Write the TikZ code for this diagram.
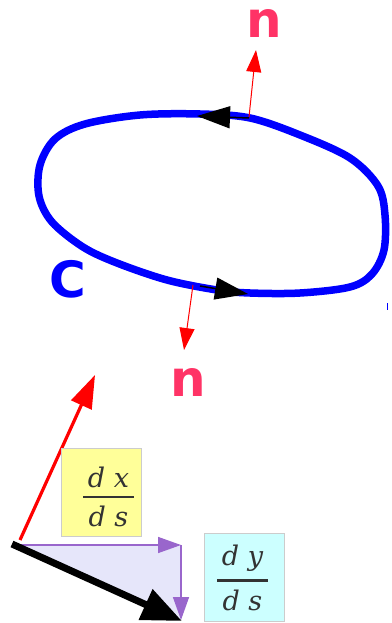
\documentclass[tikz,border=0pt]{standalone}
\usepackage{fontspec}
\usetikzlibrary{arrows.meta}
\newfontfamily\labelfont{DejaVu Sans Bold}
\newfontfamily\fracfont{DejaVu Serif}
\definecolor{curveblue}{HTML}{0000FF}
\definecolor{normred}{HTML}{FF0000}
\definecolor{labelpink}{HTML}{FF3366}
\definecolor{vecpurple}{HTML}{9966CC}
\definecolor{trifill}{HTML}{E6E6FA}
\definecolor{dxyellow}{HTML}{FFFF99}
\definecolor{dycyan}{HTML}{CCFFFF}
\definecolor{boxedge}{HTML}{CCCCCC}
\definecolor{fracgray}{HTML}{333333}
\newcommand{\vecfrac}[2]{\vbox{\offinterlineskip\halign{\hfil##\hfil\cr #1\cr\noalign{\kern8pt}\rule{51pt}{2.7pt}\cr\noalign{\kern8pt}#2\cr}}}

\begin{document}
\begin{tikzpicture}[x=1pt,y=-1pt,
    nlabel/.style={font=\labelfont\fontsize{50}{50}\selectfont,labelpink,inner sep=0pt},
    fracbox/.style={draw=boxedge,line width=1pt,minimum width=80pt,minimum height=88pt,inner sep=0pt},
    fractext/.style={font=\fracfont\itshape\fontsize{27}{30}\selectfont,fracgray,inner sep=0pt}]
    \useasboundingbox (0,0) rectangle (391,623);
    % --- closed curve C ---
    \draw[curveblue,line width=7.5pt] plot[smooth cycle,tension=0.55] coordinates {
      (200,114) (250,118) (300,135) (350,158) (378,186) (385,215) (384,250)
      (372,274) (350,287) (300,293) (250,293) (217,290) (167,280) (117,263)
      (83,247) (52,222) (39,196) (40,165) (55,139) (85,124) (140,115)};
    \draw[curveblue,line width=0.8pt] (387,303) -- (387,310);
    \node[font=\labelfont\fontsize{50}{50}\selectfont,curveblue,inner sep=0pt] (clabel) at (68,279) {C};
    % direction arrows on C
    \coordinate (toptail) at (249,118);
    \coordinate (tophead) at (197,116);
    \coordinate (bottail) at (200,286);
    \coordinate (bothead) at (248,294);
    \draw[-{Triangle[length=33pt,width=22pt]},line width=1.5pt] (toptail) -- (tophead);
    \draw[-{Triangle[length=33pt,width=22pt]},line width=1.5pt] (bottail) -- (bothead);
    % normals
    \node[nlabel] (ntop) at (264,23) {n};
    \node[nlabel] (nbot) at (188,382) {n};
    \coordinate (topfoot) at (249,117);
    \coordinate (toptip) at (256,50);
    \coordinate (botfoot) at (193,285);
    \coordinate (bottip) at (184,350);
    \draw[normred,line width=1pt,-{Triangle[length=22pt,width=15pt]}] (topfoot) -- (toptip);
    \draw[normred,line width=1pt,-{Triangle[length=22pt,width=15pt]}] (botfoot) -- (bottip);
    % --- tangent and normal vectors ---
    \coordinate (o) at (14,545);
    \coordinate (dxend) at (181,545);
    \coordinate (dyend) at (181,620);
    \fill[trifill] (o) -- (dxend) -- (dyend) -- cycle;
    \draw[vecpurple,line width=1.5pt,-{Triangle[length=23pt,width=16pt]}] (o) -- (dxend);
    \draw[vecpurple,line width=1.5pt,-{Triangle[length=23pt,width=16pt]}] (dxend) -- (dyend);
    \draw[normred,line width=3.2pt,-{Triangle[length=33pt,width=22pt]}] (20,540) coordinate (nfoot) -- (95,375) coordinate (ntip);
    \draw[line width=7pt,-{Triangle[length=40pt,width=32pt]}] (12,544) coordinate (tfoot) -- (182,621) coordinate (ttip);
    % fraction boxes
    \node[fracbox,fill=dxyellow] (dxbox) at (101,492) {};
    \node[fractext] (dxds) at (108.5,497) {\vecfrac{d x}{d s}};
    \node[fracbox,fill=dycyan] (dybox) at (244,577) {};
    \node[fractext] (dyds) at (242.5,578) {\vecfrac{d y}{d s}};
\end{tikzpicture}
\end{document}
